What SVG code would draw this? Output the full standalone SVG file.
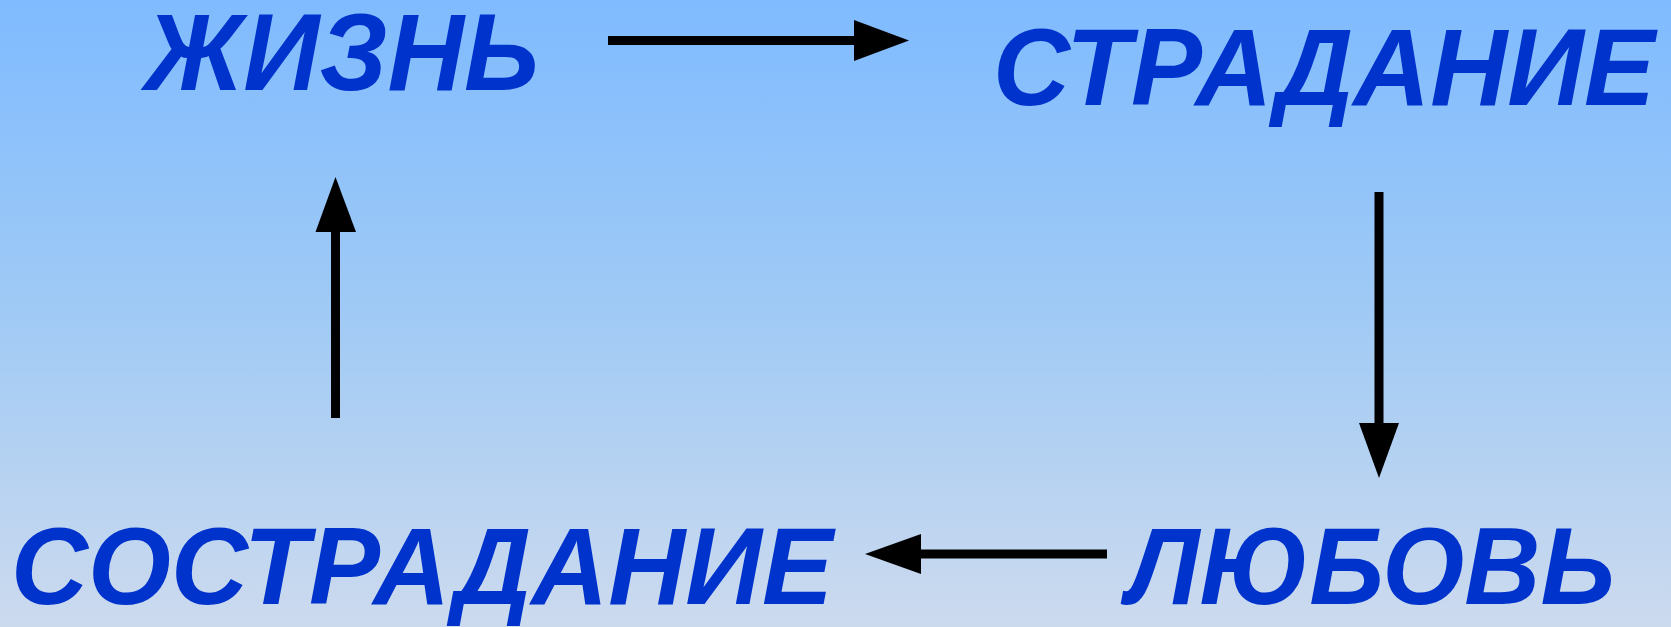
<svg xmlns="http://www.w3.org/2000/svg" width="1671" height="627" viewBox="0 0 1671 627">
  <defs>
    <linearGradient id="bg" x1="0" y1="0" x2="0" y2="1">
      <stop offset="0" stop-color="#7FBBFF"/>
      <stop offset="0.5" stop-color="#A0CAF5"/>
      <stop offset="1" stop-color="#CCDAEE"/>
    </linearGradient>
    <style>
      .lbl { font-family: "Liberation Sans", Arial, sans-serif; font-weight: bold; font-style: italic; font-size: 109px; fill: #0033CC; }
      .ln { stroke: #000; stroke-width: 9; fill: none; }
      .hd { fill: #000; }
    </style>
  </defs>
  <rect width="1671" height="627" fill="url(#bg)"/>
  <g id="node-zhizn"><text class="lbl" x="145" y="90" textLength="394" lengthAdjust="spacingAndGlyphs">ЖИЗНЬ</text></g>
  <g id="node-stradanie"><text class="lbl" x="993" y="105" textLength="662" lengthAdjust="spacingAndGlyphs">СТРАДАНИЕ</text></g>
  <g id="node-lyubov"><text class="lbl" x="1127" y="604" textLength="488" lengthAdjust="spacingAndGlyphs">ЛЮБОВЬ</text></g>
  <g id="node-sostradanie"><text class="lbl" x="11" y="604" textLength="822" lengthAdjust="spacingAndGlyphs">СОСТРАДАНИЕ</text></g>
  <g id="connectors">
    <line class="ln" x1="608" y1="40.5" x2="856" y2="40.5"/>
    <polygon class="hd" points="854,20 909,40.5 854,61"/>
    <line class="ln" x1="1379" y1="192" x2="1379" y2="425"/>
    <polygon class="hd" points="1359,423 1399,423 1379,478"/>
    <line class="ln" x1="1107" y1="554" x2="918" y2="554"/>
    <polygon class="hd" points="921,534 865,554 921,574"/>
    <line class="ln" x1="335.5" y1="418" x2="335.5" y2="229"/>
    <polygon class="hd" points="315.5,232 356,232 335.5,177"/>
  </g>
</svg>
